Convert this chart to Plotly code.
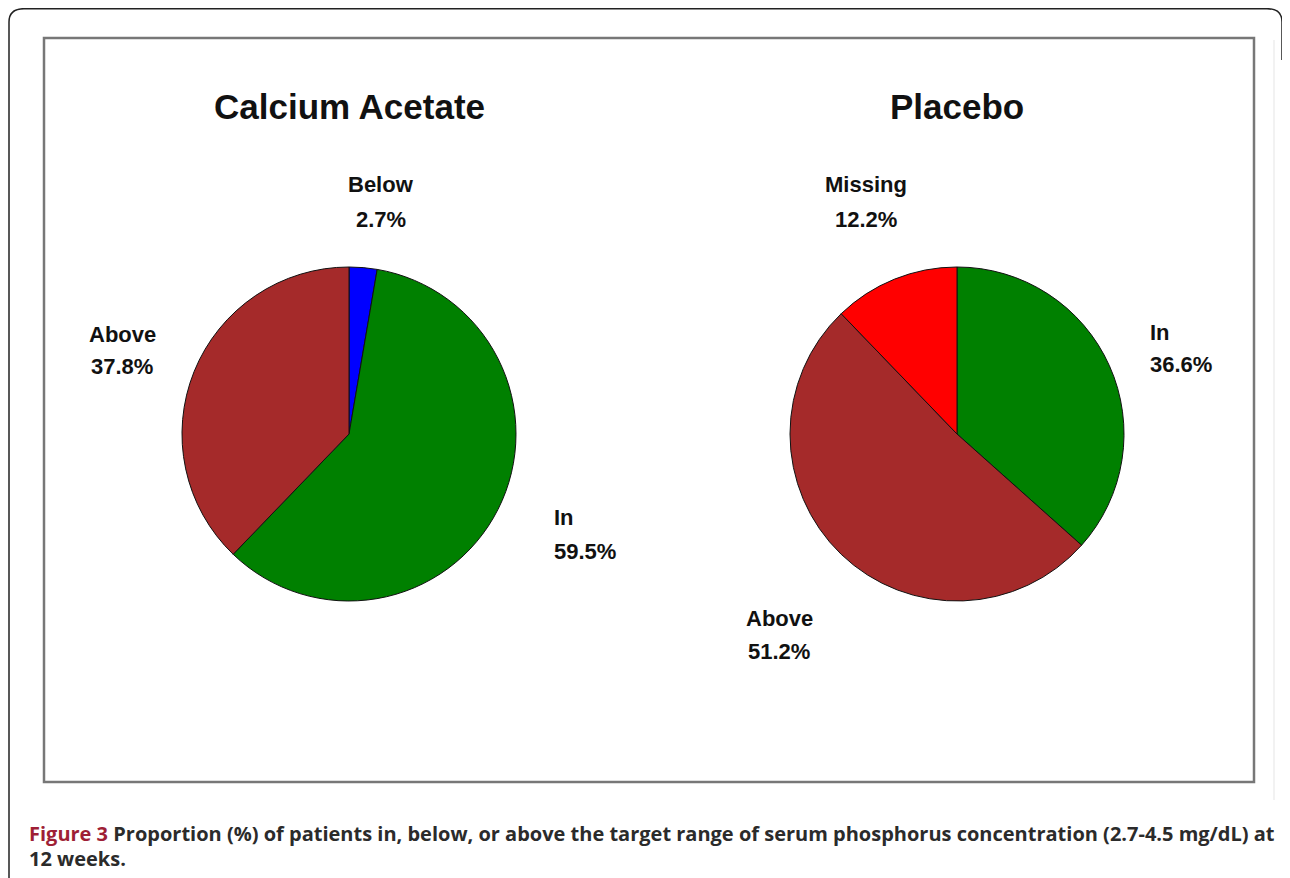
import plotly.graph_objects as go

# page body adds an 8px margin; figure is sized and offset to compensate
OFF = 8
W, H = 1290 - OFF, 878 - OFF

# ---- data ----
ca_labels = ["Below", "In", "Above"]
ca_values = [2.7, 59.5, 37.8]
ca_colors = ["#0000FF", "#008000", "#A52A2A"]

pl_labels = ["In", "Above", "Missing"]
pl_values = [36.6, 51.2, 12.2]
pl_colors = ["#008000", "#A52A2A", "#FF0000"]

titles = ["Calcium Acetate", "Placebo"]

caption_label = "Figure 3"
caption_line1 = " Proportion (%) of patients in, below, or above the target range of serum phosphorus concentration (2.7-4.5 mg/dL) at"
caption_line2 = "12 weeks."

# ---- helpers (screen pixel -> paper fraction) ----
def px(x):
    return (x - OFF) / W

def py(y):
    return 1 - (y - OFF) / H

def pct(v):
    return f"{v:.1f}%"

R = 167
centers = [(349, 434), (957, 434)]

fig = go.Figure()
for (cx, cy), labs, vals, cols in [
    (centers[0], ca_labels, ca_values, ca_colors),
    (centers[1], pl_labels, pl_values, pl_colors),
]:
    fig.add_trace(go.Pie(
        labels=labs, values=vals, sort=False, direction="clockwise", rotation=0,
        marker=dict(colors=cols, line=dict(color="#111111", width=1)),
        textinfo="none", hoverinfo="label+value", showlegend=False,
        domain=dict(x=[px(cx - R), px(cx + R)], y=[py(cy + R), py(cy - R)]),
    ))

ann = []
label_font = dict(family="Liberation Sans, Arial, sans-serif", size=22, color="#111111")

for (cx, cy), t in zip(centers, titles):
    ann.append(dict(x=px(cx), y=py(106), xref="paper", yref="paper", text=f"<b>{t}</b>",
                    showarrow=False, xanchor="center", yanchor="middle",
                    font=dict(family="Liberation Sans, Arial, sans-serif", size=35, color="#111111")))

label_pos = {
    ("ca", "Below"): (381, 185, 219, "center"),
    ("ca", "Above"): (122, 334, 366, "center"),
    ("ca", "In"): (552, 518, 551, "left"),
    ("pl", "Missing"): (866, 185, 219, "center"),
    ("pl", "In"): (1148, 332, 364, "left"),
    ("pl", "Above"): (779, 618, 651, "center"),
}
for key, labs, vals in [("ca", ca_labels, ca_values), ("pl", pl_labels, pl_values)]:
    for lab, v in zip(labs, vals):
        x, y1, y2, al = label_pos[(key, lab)]
        for txt, yy in [(lab, y1), (pct(v), y2)]:
            ann.append(dict(x=px(x), y=py(yy), xref="paper", yref="paper", text=f"<b>{txt}</b>",
                            showarrow=False, xanchor=al, yanchor="middle", font=label_font))

cap_font = dict(family="Open Sans, Lato, sans-serif", size=20, color="#2b2b2b")
ann.append(dict(x=px(27), y=py(833), xref="paper", yref="paper",
                text=f"<b><span style='color:#9E1F36'>{caption_label}</span>{caption_line1}</b>",
                showarrow=False, xanchor="left", yanchor="middle", font=cap_font))
ann.append(dict(x=px(27), y=py(858), xref="paper", yref="paper",
                text=f"<b>{caption_line2}</b>",
                showarrow=False, xanchor="left", yanchor="middle", font=cap_font))

shapes = [
    # light shadow beside the chart frame
    dict(type="line", xref="paper", yref="paper", x0=px(1274), x1=px(1274), y0=py(40), y1=py(800),
         line=dict(color="#eeeeee", width=1.5)),
    dict(type="rect", xref="paper", yref="paper", x0=px(44), x1=px(1254), y0=py(782), y1=py(38),
         line=dict(color="#777777", width=2.5)),
    dict(type="path", xref="paper", yref="paper",
         path=(f"M {px(9)},{py(890)} L {px(9)},{py(22)} Q {px(9)},{py(8.7)} {px(24)},{py(8.7)} "
               f"L {px(1267)},{py(8.7)} Q {px(1282)},{py(8.7)} {px(1282)},{py(22)} L {px(1282)},{py(60)}"),
         line=dict(color="#222222", width=1.5)),
]

fig.update_layout(
    width=W, height=H, margin=dict(l=0, r=0, t=0, b=0),
    paper_bgcolor="white", plot_bgcolor="white",
    annotations=ann, shapes=shapes,
)

fig.write_html("out.html")
